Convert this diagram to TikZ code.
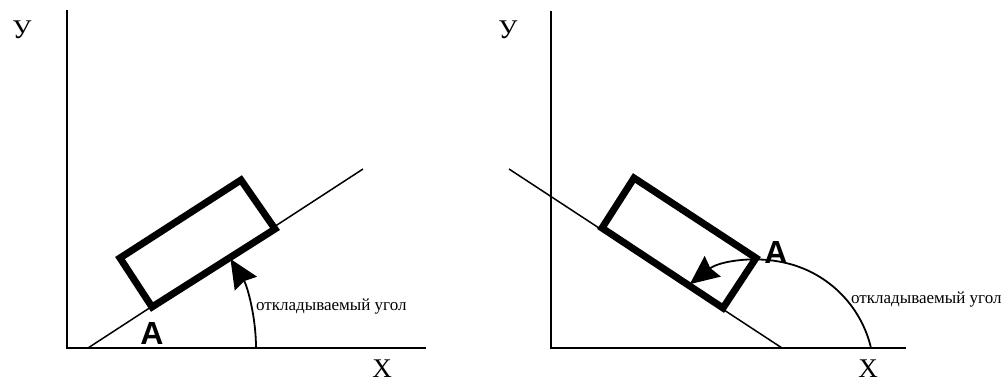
\documentclass[tikz,border=0pt]{standalone}
\usepackage{fontspec}
\usepackage{tikz}
\usetikzlibrary{arrows.meta}
\setmainfont{Liberation Serif}
\newfontfamily\pointfont{Liberation Sans}

\begin{document}
\begin{tikzpicture}[x=1pt, y=1pt,
    axis/.style={line width=2.2pt},
    slope/.style={line width=1.5pt},
    body/.style={line width=7pt, line join=miter},
    turn/.style={line width=1.8pt, -{Stealth[length=29pt, width=26pt, inset=3pt]}},
    axislabel/.style={font=\fontsize{27}{27}\selectfont, inner sep=0pt},
    pointlabel/.style={font=\pointfont\bfseries\fontsize{32}{32}\selectfont, inner sep=0pt},
    anglelabel/.style={font=\fontsize{17}{18}\selectfont, anchor=west, inner sep=0pt}]
  \useasboundingbox (0,0) rectangle (1008,383);
  % left: angle counted from the X axis
  \coordinate (O1) at (67,35);
  \draw[axis] (67,373) -- (O1) -- (426,35);
  \draw[slope] (88,35) -- (363,214);
  \draw[body] (152,76) coordinate (A1) -- (275,154) -- (241,203) -- (120,125) -- cycle;
  \draw[turn] (88,35) ++(0:168pt) arc[start angle=0, end angle=32, radius=168pt];
  \node[pointlabel] (a1) at (152,50) {A};
  \node[anglelabel] (t1) at (256,76) {откладываемый угол};
  \node[axislabel] (y1) at (22,353) {У};
  \node[axislabel] (x1) at (382,14) {X};
  % right: angle counted back from the X axis
  \coordinate (O2) at (551,35);
  \draw[axis] (551,372) -- (O2) -- (906,35);
  \draw[slope] (509,214) -- (782,35);
  \draw[body] (756,125) coordinate (A2) -- (723,75) -- (602,155) -- (634,205) -- cycle;
  \draw[turn] (760,9) ++(13:114pt) arc[start angle=13, end angle=128, radius=114pt];
  \node[pointlabel] (a2) at (776,131) {A};
  \node[anglelabel] (t2) at (851,83) {откладываемый угол};
  \node[axislabel] (y2) at (508,353) {У};
  \node[axislabel] (x2) at (868,14) {X};
\end{tikzpicture}
\end{document}
